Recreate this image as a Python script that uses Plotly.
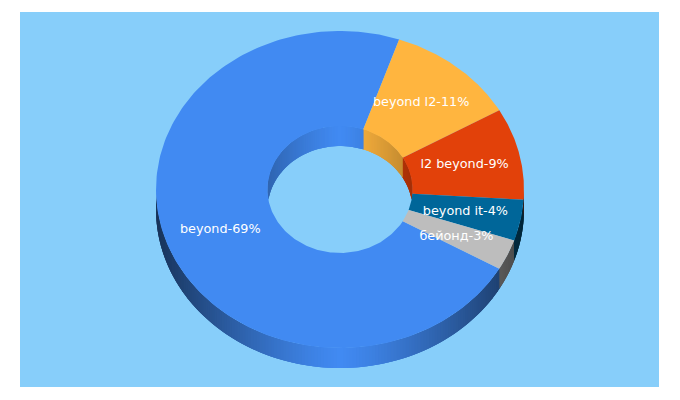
import numpy as np
import plotly.graph_objects as go

labels = ["beyond", "beyond l2", "l2 beyond", "beyond it", "бейонд"]
values = [69, 11, 9, 4, 3]
colors = ["#418AF2", "#FFB53F", "#E2410A", "#006699", "#BDBDBD"]

background = "#87CEFA"
cx, cy = 340, 189.5
rx, ry = 184, 158.5
hole_rx, hole_ry = 72.5, 63.5
depth = 20
start_angle = -30  # degrees, slices run clockwise from here


def shade(color, factor):
    r, g, b = [int(color[i:i + 2], 16) for i in (1, 3, 5)]
    return f"rgb({r * factor:.0f},{g * factor:.0f},{b * factor:.0f})"


def color_at(t, edges):
    t = (start_angle - t) % 360
    for k in range(len(values)):
        if t <= edges[k + 1]:
            return colors[k]
    return colors[-1]


def add_poly(fig, xs, ys, color):
    fig.add_trace(go.Scatter(
        x=xs, y=ys, mode="lines", fill="toself", fillcolor=color,
        line=dict(width=0), hoverinfo="skip", showlegend=False
    ))


# clockwise sweep of every slice, measured from start_angle
sweep = 360 * np.array(values) / sum(values)
edges = np.concatenate([[0], np.cumsum(sweep)])
# screen y grows downward, so clockwise on screen is a falling angle
t_edges = start_angle - edges

fig = go.Figure()

# outer side wall, front half only
# each strip runs on under the next one so no seams show
for t in np.arange(-180, 0, 1.0):
    ts = np.radians(np.linspace(t, min(t + 3, 0), 6))
    x = cx + rx * np.cos(ts)
    y = cy - ry * np.sin(ts)
    u = abs(np.cos(np.radians(t + 0.5)))
    base = color_at(t + 0.5, edges)
    add_poly(fig, list(x) + list(x[::-1]), list(y) + list((y + depth)[::-1]),
             shade(base, 1 - 0.63 * u ** 1.25))

# inner wall seen through the hole, back half only
for t in np.arange(0, 180, 1.0):
    ts = np.radians(np.linspace(t, min(t + 3, 180), 6))
    x = cx + hole_rx * np.cos(ts)
    sin_t = np.clip(np.sin(ts), 0, None)
    y = cy - hole_ry * sin_t
    low = cy + np.minimum(depth - hole_ry * sin_t, hole_ry * sin_t)
    u = abs(np.cos(np.radians(t + 0.5)))
    base = color_at(t + 0.5, edges)
    add_poly(fig, list(x) + list(x[::-1]), list(y) + list(low[::-1]),
             shade(base, 1 - 0.27 * u ** 1.25))

# top face of the ring
for k in range(len(values)):
    ts = np.radians(np.linspace(t_edges[k], t_edges[k + 1], 200))
    xs = list(cx + rx * np.cos(ts)) + list(cx + hole_rx * np.cos(ts[::-1]))
    ys = list(cy - ry * np.sin(ts)) + list(cy - hole_ry * np.sin(ts[::-1]))
    add_poly(fig, xs + xs[:1], ys + ys[:1], colors[k])

# labels sit on the middle of each slice
mid = np.radians((t_edges[:-1] + t_edges[1:]) / 2)
fig.add_trace(go.Scatter(
    x=cx + 0.695 * rx * np.cos(mid),
    y=cy + 0.5 - 0.71 * ry * np.sin(mid),
    mode="text",
    text=[f"{a}-{b}%" for a, b in zip(labels, values)],
    textposition="middle center",
    textfont=dict(family="DejaVu Sans", size=12.8, color="white"),
    hoverinfo="skip", showlegend=False
))

fig.update_layout(
    width=680, height=400, autosize=False,
    margin=dict(l=20, r=21, t=12, b=13),
    paper_bgcolor="white", plot_bgcolor=background,
    xaxis=dict(range=[20, 659], visible=False, fixedrange=True),
    yaxis=dict(range=[387, 12], visible=False, fixedrange=True),
)

fig.write_html("out.html", config=dict(displayModeBar=False),
               post_script="document.body.style.margin='0';")
